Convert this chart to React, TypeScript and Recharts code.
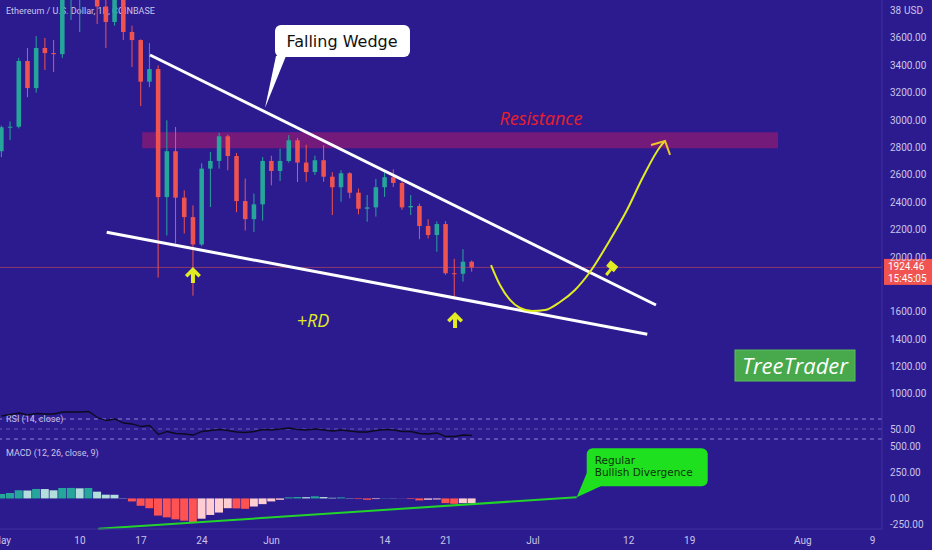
import React from 'react'
import {
  Bar,
  Cell,
  ComposedChart,
  Line,
  ReferenceArea,
  ReferenceDot,
  ReferenceLine,
  XAxis,
  YAxis,
} from 'recharts'

// ETH/USD daily, day 0 = 1 May 2021
const opens = [2773, 2948, 2952, 3432, 3234, 3527, 3490, 3482, 3910, 3925, 3950, 4168, 3830, 3717, 4075, 3644, 3585, 3281, 3373, 2438, 2773, 2434, 2292, 2092, 2646, 2702, 2882, 2738, 2409, 2277, 2385, 2702, 2629, 2702, 2853, 2690, 2621, 2707, 2587, 2510, 2612, 2470, 2353, 2363, 2510, 2583, 2541, 2363, 2373, 2227, 2161, 2241, 1882, 1878, 1966]
const highs = [2960, 2990, 3455, 3527, 3614, 3600, 3585, 3970, 3975, 4200, 4200, 4380, 4030, 4130, 4140, 3690, 3590, 3563, 3400, 2999, 2950, 2487, 2377, 2685, 2768, 2907, 2895, 2760, 2573, 2463, 2731, 2740, 2792, 2890, 2870, 2820, 2740, 2817, 2620, 2634, 2620, 2500, 2453, 2571, 2620, 2641, 2560, 2453, 2390, 2276, 2260, 2263, 1987, 2057, 1975]
const lows = [2730, 2855, 2940, 3168, 3200, 3366, 3351, 3455, 3732, 3644, 3890, 3702, 3527, 3690, 3585, 3388, 3103, 3241, 1850, 2158, 2099, 2172, 1718, 2080, 2365, 2646, 2634, 2328, 2194, 2182, 2267, 2524, 2555, 2690, 2548, 2550, 2600, 2550, 2307, 2404, 2429, 2312, 2258, 2296, 2440, 2511, 2345, 2307, 2130, 2136, 2039, 1870, 1690, 1820, 1893]
const closes = [2948, 2952, 3432, 3234, 3527, 3490, 3482, 3910, 3925, 3950, 4168, 3830, 3717, 4075, 3644, 3585, 3281, 3373, 2438, 2773, 2434, 2292, 2092, 2646, 2702, 2882, 2738, 2409, 2277, 2385, 2702, 2629, 2702, 2853, 2690, 2621, 2707, 2587, 2510, 2612, 2470, 2353, 2363, 2510, 2583, 2541, 2363, 2373, 2227, 2161, 2241, 1882, 1878, 1966, 1924.46]
const rsiValues = [76, 79, 82, 78, 81, 80, 80, 84, 84, 84, 85, 73, 67, 70, 62, 60, 55, 57, 39, 45, 41, 40, 38, 45, 47, 49, 47, 44, 43, 45, 49, 48, 50, 52, 49, 48, 50, 48, 46, 48, 46, 44, 44, 47, 49, 48, 45, 45, 41, 40, 42, 35, 35, 38, 37]
const macdHist = [42, 52, 78, 76, 91, 90, 78, 100, 101, 97, 100, 65, 36, 35, 3, -29, -71, -94, -165, -182, -201, -214, -233, -195, -159, -136, -94, -96, -100, -78, -55, -29, -13, 10, 13, 12, 20, 13, 6, 10, 3, -6, -13, -6, 3, 2, 1, -6, -19, -13, -10, -45, -52, -45, -44]

const timeTicks = [0, 9, 16, 23, 31, 44, 51, 61, 72, 79, 92, 100]
const timeLabels = ['May', '10', '17', '24', 'Jun', '14', '21', 'Jul', '12', '19', 'Aug', '9']
const priceTicks = [1000, 1200, 1400, 1600, 2000, 2200, 2400, 2600, 2800, 3000, 3200, 3400, 3600, 3800]
const macdTicks = [-250, 0, 250, 500]
const lastPrice = 1924.46

// hand-drawn projection (day, price)
const projDays = [56.19, 57.22, 58.37, 59.52, 60.9, 62.39, 64.11, 65.83, 67.55, 69.85, 71.8, 73.64, 75.59, 76.17]
const projPrices = [1942, 1796, 1687, 1628, 1606, 1613, 1672, 1760, 1891, 2125, 2344, 2585, 2804, 2848]

const candles = opens.map((o, i) => ({ day: i, open: o, high: highs[i], low: lows[i], close: closes[i] }))
const rsiRows = rsiValues.map((v, i) => ({ day: i, rsi: v }))
const macdRows = macdHist.map((v, i) => ({ day: i, hist: v }))
const projection = projDays.map((d, i) => ({ day: d, price: projPrices[i] }))

const BG = '#2c1b8f'
const TXT = '#c9c5e8'
const AXIS = '#40319f'
const UP = '#26a69a'
const DOWN = '#ef5350'
const YEL = '#e1ec22'
const XMIN = -0.184
const XMAX = 101.08

function histColor(i: number) {
  const v = macdHist[i]
  const prev = i > 0 ? macdHist[i - 1] : 30
  if (v >= 0) return v >= prev ? '#26a69a' : '#b2dfdb'
  return v < prev ? '#ff5252' : '#ffcdd2'
}

function Candle(props: any) {
  const { x, y, width, height, payload } = props
  if (x == null || !payload) return null
  const top = Math.min(y, y + height)
  const h = Math.abs(height)
  const { open, high, low, close } = payload
  const py = (p: number) => top + ((high - p) / (high - low)) * h
  const color = close >= open ? UP : DOWN
  const cx = x + width / 2
  const bodyTop = py(Math.max(open, close))
  const bodyH = Math.max(1, py(Math.min(open, close)) - bodyTop)
  return (
    <g>
      <line x1={cx} x2={cx} y1={top} y2={top + h} stroke={color} strokeWidth={1} />
      <rect x={x} y={bodyTop} width={width} height={bodyH} fill={color} />
    </g>
  )
}

function PriceTick({ x, y, payload }: any) {
  if (payload.value === 3800) {
    return (
      <g fontFamily="Roboto" fontSize={10} fill={TXT}>
        <text x={x} y={y} dy={3.5}>38</text>
        <text x={x + 14} y={y} dy={3.5}>USD</text>
      </g>
    )
  }
  return (
    <text x={x} y={y} dy={3.5} fontFamily="Roboto" fontSize={10} fill={TXT}>
      {payload.value.toFixed(2)}
    </text>
  )
}

function PriceTag(props: any) {
  const { x, y, width } = props.viewBox
  const left = x + width + 2
  return (
    <g fontFamily="Roboto" fontSize={10} fill="#fff">
      <rect x={left} y={y - 8.5} width={50} height={26} fill="#f05350" />
      <text x={left + 4} y={y + 3}>{lastPrice.toFixed(2)}</text>
      <text x={left + 4} y={y + 15}>15:45:05</text>
    </g>
  )
}

const WedgeNote = ({ cx, cy }: any) => (
  <g>
    <rect x={cx + 10} y={cy - 83} width={135} height={32} rx={6} fill="#fff" />
    <polygon points={`${cx + 11},${cy - 52} ${cx + 21},${cy - 52} ${cx},${cy}`} fill="#fff" />
    <text x={cx + 77} y={cy - 61} textAnchor="middle" fontFamily="DejaVu Sans" fontSize={16} fill="#111">
      Falling Wedge
    </text>
  </g>
)

const DivergenceNote = ({ cx, cy }: any) => (
  <g>
    <rect x={cx + 10} y={cy - 49} width={121} height={38} rx={6} fill="#1fe01f" />
    <polygon points={`${cx + 10},${cy - 24} ${cx + 24},${cy - 11} ${cx},${cy}`} fill="#1fe01f" />
    <g fontFamily="DejaVu Sans" fontSize={10.5} fill="#0b330b">
      <text x={cx + 18} y={cy - 33}>Regular</text>
      <text x={cx + 18} y={cy - 21}>Bullish Divergence</text>
    </g>
  </g>
)

const makeText = (text: string, color: string, size: number) => ({ cx, cy }: any) => (
  <text x={cx} y={cy} dy={size * 0.35} textAnchor="middle" fontFamily="Open Sans" fontStyle="italic" fontSize={size} fill={color}>
    {text}
  </text>
)

const UpArrow = ({ cx, cy }: any) => (
  <polygon
    points={[
      [0, -8], [8, 0], [5.5, 2.5], [2, -1], [2, 8], [-2, 8], [-2, -1], [-5.5, 2.5], [-8, 0],
    ].map(([a, b]) => `${cx + a},${cy + b}`).join(' ')}
    fill={YEL}
  />
)

const Hammer = ({ cx, cy }: any) => (
  <g transform={`translate(${cx},${cy}) rotate(40)`} fill={YEL}>
    <rect x={-6} y={-5} width={10} height={7} />
    <rect x={-1.5} y={2} width={3} height={7} />
  </g>
)

const ArrowHead = ({ cx, cy }: any) => (
  <polyline
    points={`${cx - 14},${cy + 4} ${cx},${cy} ${cx + 5},${cy + 14}`}
    fill="none"
    stroke="#eec62a"
    strokeWidth={2}
  />
)

const TreeTraderBadge = ({ cx, cy }: any) => (
  <g>
    <rect x={cx - 60} y={cy - 15.5} width={120} height={31} fill="#47a94b" stroke="#5cbf5f" />
    <text x={cx} y={cy + 8} textAnchor="middle" fontFamily="Open Sans" fontStyle="italic" fontSize={22} fill="#fff">
      TreeTrader
    </text>
  </g>
)

const labelStyle: React.CSSProperties = {
  position: 'absolute',
  left: 6,
  fontFamily: 'Roboto',
  fontSize: 9,
  color: TXT,
  whiteSpace: 'nowrap',
}

export default function App() {
  return (
    <div style={{ position: 'absolute', left: 0, top: 0, width: 932, height: 550, background: BG, overflow: 'hidden' }}>
      <div style={{ ...labelStyle, top: 6 }}>Ethereum / U.S. Dollar, 1D, COINBASE</div>
      <div style={{ ...labelStyle, top: 414 }}>RSI (14, close)</div>
      <div style={{ ...labelStyle, top: 448 }}>MACD (12, 26, close, 9)</div>

      <div style={{ position: 'absolute', left: 0, top: 0 }}>
        <ComposedChart width={932} height={405} data={candles} margin={{ top: 0, right: 0, bottom: 0, left: 0 }}>
          <XAxis type="number" dataKey="day" domain={[XMIN, XMAX]} hide allowDataOverflow />
          <YAxis
            orientation="right"
            width={50}
            domain={[919.6, 3877.5]}
            allowDataOverflow
            ticks={priceTicks}
            interval={0}
            tick={<PriceTick />}
            tickLine={false}
            tickSize={0}
            tickMargin={8}
            axisLine={{ stroke: AXIS }}
          />
          <ReferenceArea x1={16.15} x2={89.14} y1={2794} y2={2911} fill="#d81b60" fillOpacity={0.42} stroke="none" ifOverflow="visible" />
          <ReferenceLine y={lastPrice} stroke={DOWN} strokeOpacity={0.5} label={<PriceTag />} />
          <Bar dataKey={(d: any) => [d.low, d.high]} barSize={6} shape={<Candle />} isAnimationActive={false} />
          <ReferenceLine segment={[{ x: 17.04, y: 3476 }, { x: 75.13, y: 1650 }]} stroke="#fff" strokeWidth={3} ifOverflow="visible" />
          <ReferenceLine segment={[{ x: 12.07, y: 2181 }, { x: 74.13, y: 1436 }]} stroke="#fff" strokeWidth={3} ifOverflow="visible" />
          <Line
            data={projection}
            dataKey="price"
            type="monotone"
            stroke={YEL}
            strokeWidth={2}
            dot={false}
            activeDot={false}
            isAnimationActive={false}
          />
          <ReferenceDot x={76.17} y={2848} r={3} shape={ArrowHead} ifOverflow="visible" />
          <ReferenceDot x={30.24} y={3089} r={3} shape={WedgeNote} ifOverflow="visible" />
          <ReferenceDot x={61.93} y={3008} r={3} shape={makeText('Resistance', '#e8202a', 18)} ifOverflow="visible" />
          <ReferenceDot x={35.75} y={1533} r={3} shape={makeText('+RD', YEL, 18)} ifOverflow="visible" />
          <ReferenceDot x={21.97} y={1869} r={3} shape={UpArrow} ifOverflow="visible" />
          <ReferenceDot x={52.06} y={1540} r={3} shape={UpArrow} ifOverflow="visible" />
          <ReferenceDot x={70.08} y={1920} r={3} shape={Hammer} ifOverflow="visible" />
          <ReferenceDot x={91.09} y={1208} r={3} shape={TreeTraderBadge} ifOverflow="visible" />
        </ComposedChart>
      </div>

      <div style={{ position: 'absolute', left: 0, top: 405 }}>
        <ComposedChart width={932} height={40} data={rsiRows} margin={{ top: 0, right: 0, bottom: 0, left: 0 }}>
          <XAxis type="number" dataKey="day" domain={[XMIN, XMAX]} hide allowDataOverflow />
          <YAxis
            orientation="right"
            width={50}
            domain={[18, 98]}
            ticks={[50]}
            tickFormatter={(v: number) => v.toFixed(2)}
            tick={{ fill: TXT, fontSize: 10, fontFamily: 'Roboto', textAnchor: 'start' }}
            tickLine={false}
            tickSize={0}
            tickMargin={8}
            axisLine={{ stroke: AXIS }}
          />
          <ReferenceLine y={70} stroke="#8f85d8" strokeDasharray="4 4" />
          <ReferenceLine y={50} stroke="#8f85d8" strokeDasharray="4 4" strokeOpacity={0.6} />
          <ReferenceLine y={30} stroke="#8f85d8" strokeDasharray="4 4" />
          <Line dataKey="rsi" stroke="#0c0a1e" strokeWidth={1.3} dot={false} activeDot={false} isAnimationActive={false} />
        </ComposedChart>
      </div>

      <div style={{ position: 'absolute', left: 0, top: 435 }}>
        <ComposedChart width={932} height={115} data={macdRows} margin={{ top: 10, right: 0, bottom: 0, left: 0 }}>
          <XAxis
            type="number"
            dataKey="day"
            domain={[XMIN, XMAX]}
            allowDataOverflow
            ticks={timeTicks}
            interval={0}
            tickFormatter={(v: number) => timeLabels[timeTicks.indexOf(v)]}
            height={21}
            tickLine={false}
            tickSize={0}
            tickMargin={8}
            axisLine={{ stroke: AXIS }}
            tick={{ fill: TXT, fontSize: 10, fontFamily: 'Roboto' }}
          />
          <YAxis
            orientation="right"
            width={50}
            domain={[-294, 513.5]}
            allowDataOverflow
            ticks={macdTicks}
            interval={0}
            tickFormatter={(v: number) => v.toFixed(2)}
            tick={{ fill: TXT, fontSize: 10, fontFamily: 'Roboto', textAnchor: 'start' }}
            tickLine={false}
            tickSize={0}
            tickMargin={8}
            axisLine={{ stroke: AXIS }}
          />
          <Bar dataKey="hist" barSize={8} isAnimationActive={false}>
            {macdRows.map((_, i) => (
              <Cell key={i} fill={histColor(i)} />
            ))}
          </Bar>
          <ReferenceLine segment={[{ x: 11.1, y: -292 }, { x: 66.03, y: 11.5 }]} stroke="#22d42a" strokeWidth={2} ifOverflow="visible" />
          <ReferenceDot x={66.03} y={11.5} r={3} shape={DivergenceNote} ifOverflow="visible" />
        </ComposedChart>
      </div>
    </div>
  )
}
